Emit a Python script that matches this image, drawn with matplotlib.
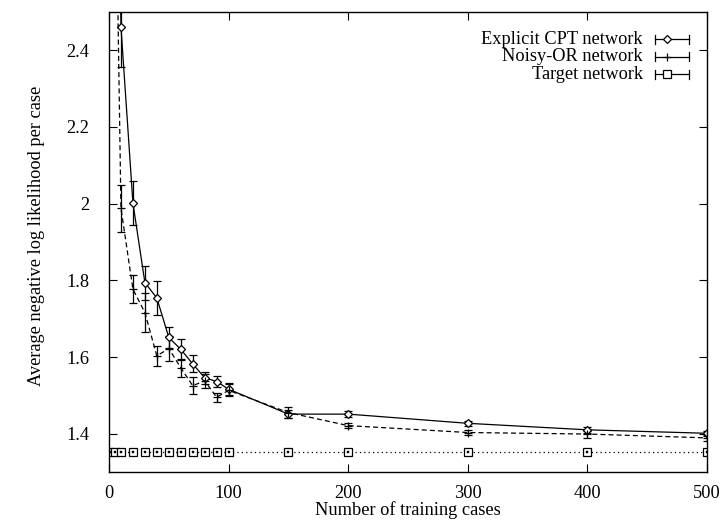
import matplotlib
matplotlib.use("Agg")
import matplotlib.pyplot as plt
from matplotlib.lines import Line2D

plt.rcParams['font.family'] = ['Liberation Serif', 'DejaVu Serif']
plt.rcParams['font.size'] = 13.2

# Data
cases = [1, 5, 10, 20, 30, 40, 50, 60, 70, 80, 90, 100, 150, 200, 300, 400, 500]
cpt_mean = [6.0, 3.6, 2.461, 2.002, 1.794, 1.754, 1.651, 1.620, 1.582, 1.546, 1.536, 1.516, 1.451, 1.451, 1.427, 1.410, 1.401]
cpt_err = [0.3, 0.2, 0.105, 0.058, 0.044, 0.045, 0.027, 0.027, 0.022, 0.016, 0.015, 0.015, 0.010, 0.007, 0.007, 0.007, 0.006]
nor_mean = [5.0, 3.0, 1.988, 1.777, 1.716, 1.603, 1.622, 1.572, 1.525, 1.538, 1.495, 1.513, 1.455, 1.421, 1.403, 1.399, 1.389]
nor_err = [0.3, 0.2, 0.062, 0.036, 0.050, 0.026, 0.032, 0.023, 0.022, 0.018, 0.012, 0.016, 0.014, 0.006, 0.006, 0.009, 0.008]
target_mean = [1.351] * len(cases)

series_labels = ["Explicit CPT network", "Noisy-OR network", "Target network"]
x_ticks = [0, 100, 200, 300, 400, 500]
y_ticks = [1.4, 1.6, 1.8, 2.0, 2.2, 2.4]
y_ticklabels = ["1.4", "1.6", "1.8", "2", "2.2", "2.4"]

fig = plt.figure(figsize=(7.22, 5.2), dpi=100)
ax = fig.add_axes([109/722, 48/520, 598/722, 460/520])

lw = 0.9
ax.errorbar(cases, cpt_mean, yerr=cpt_err, color='black', lw=lw, elinewidth=lw,
            capsize=3, capthick=lw, marker='D', ms=4.5, mfc='white', mec='black',
            mew=0.9, ls='-')
ax.errorbar(cases, nor_mean, yerr=nor_err, color='black', lw=lw, elinewidth=lw,
            capsize=3, capthick=lw, marker='+', ms=6, mew=0.9, ls=(0, (4, 2.5)))
ax.plot(cases, target_mean, color='black', lw=lw, ls=(0, (1, 2.5)),
        marker='s', ms=5.5, mfc='white', mec='black', mew=0.9)
ax.plot(cases, target_mean, ls='none', marker='s', ms=1.6, mfc='black', mec='black', mew=0.3)

ax.set_xlim(0, 500)
ax.set_ylim(1.3, 2.5)
ax.set_xticks(x_ticks)
ax.set_yticks(y_ticks)
ax.set_yticklabels(y_ticklabels)
ax.tick_params(direction='in', length=6, width=0.8, top=True, right=True)
ax.tick_params(axis='x', pad=9)
ax.tick_params(axis='y', pad=14)
for s in ax.spines.values():
    s.set_linewidth(1.0)

ax.set_xlabel("Number of training cases", labelpad=0)
fig.text(37/722, 1 - 236/520, "Average negative log likelihood per case",
         rotation=90, ha='center', va='center')

# gnuplot-style key
rows_y = [0.941, 0.903, 0.865]
markers = [dict(marker='D', ms=4.5, mfc='white', mec='black', mew=0.9),
           dict(marker='+', ms=6, mew=0.9, mec='black'),
           dict(marker='s', ms=5.5, mfc='white', mec='black', mew=0.9)]
for lab, yy, mk in zip(series_labels, rows_y, markers):
    ax.text(0.893, yy, lab, transform=ax.transAxes, ha='right', va='center')
    ax.add_line(Line2D([0.913, 0.970], [yy, yy], transform=ax.transAxes, color='black', lw=lw))
    for xe in (0.913, 0.970):
        ax.add_line(Line2D([xe, xe], [yy - 0.01, yy + 0.01], transform=ax.transAxes, color='black', lw=lw))
    ax.add_line(Line2D([0.933], [yy], transform=ax.transAxes, ls='none', **mk))

fig.savefig("out.png", dpi=100)
